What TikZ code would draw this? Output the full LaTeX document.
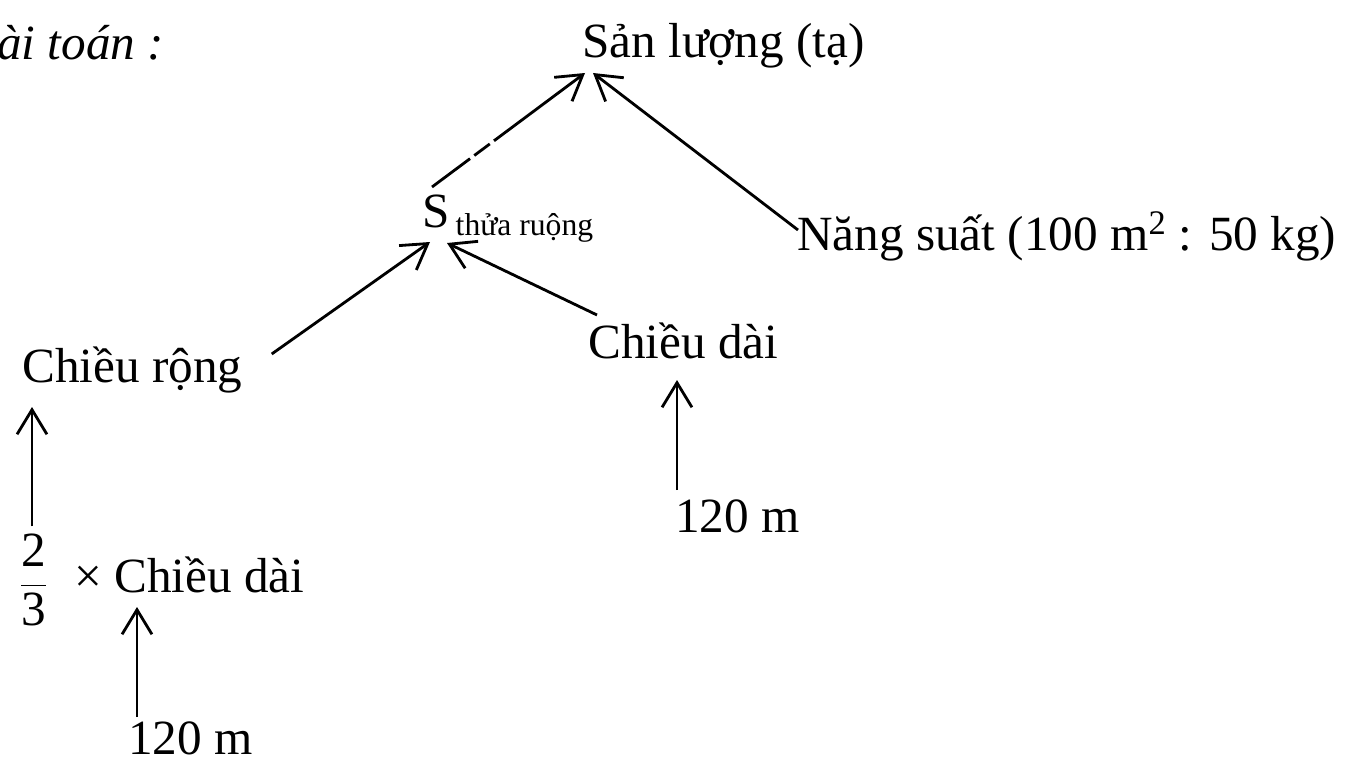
\documentclass[tikz,border=0pt]{standalone}
\usepackage[no-math]{fontspec}
\setmainfont{Liberation Serif}
\usetikzlibrary{arrows.meta, calc}

\begin{document}
\begin{tikzpicture}[lbl/.style={inner sep=0pt, anchor=base west, font=\fontsize{28}{34}\selectfont}, link/.style={line width=1.6pt, -{Straight Barb[length=14pt, width=17pt]}}]
			\useasboundingbox (0,0) rectangle (27.16,-15.3);
			\node[lbl, font=\fontsize{28}{34}\selectfont\itshape] (title) at (-0.06,-1.2) {ài toán :};
			\node[lbl] (sanluong) at (11.64,-1.16) {Sản lượng (tạ)};
			\node[lbl] (dientich) at (8.44,-4.54) {S\hspace{0.12cm}\raisebox{-0.16cm}{\fontsize{18}{20}\selectfont thửa ruộng}};
			\node[lbl] (nangsuat) at (15.94,-5.0) {Năng suất (100 m\textsuperscript{2} : 50 kg)};
			\node[lbl] (rong) at (0.44,-7.64) {Chiều rộng};
			\node[lbl] (dai) at (11.76,-7.16) {Chiều dài};
			\node[lbl] (daiso) at (13.5,-10.64) {120 m};
			\node[inner sep=0pt, font=\fontsize{28}{34}\selectfont] (frac) at (0.67,-11.6) {$\displaystyle\frac{\mbox{2}}{\mbox{3}}$};
			\node[lbl] (rongdai) at (1.48,-11.84) {× Chiều dài};
			\node[lbl] (rongso) at (2.56,-15.08) {120 m};
			% arrows up the tree
			\draw[link, dash pattern=on 27pt off 3pt on 11pt off 3pt on 200pt off 3pt] ($(dientich.base west)+(0.2,0.8)$) -- ($(sanluong.base west)+(0.06,-0.3)$);
			\draw[link] ($(nangsuat.base west)+(0.02,0.4)$) -- ($(sanluong.base west)+(0.22,-0.3)$);
			\draw[link] ($(rong.base east)+(0.58,0.56)$) -- ($(dientich.base west)+(0.16,-0.3)$);
			\draw[link] ($(dai.base west)+(0.18,0.86)$) -- ($(dientich.base west)+(0.5,-0.32)$);
			\draw[link] ($(daiso.base west)+(0.04,0.84)$) -- ($(dai.base west)+(1.78,-0.44)$);
			\draw[link] ($(frac.north)+(-0.03,0.14)$) -- ($(rong.base west)+(0.2,-0.5)$);
			\draw[link] ($(rongso.base west)+(0.18,0.74)$) -- ($(rongdai.base west)+(1.26,-0.3)$);
			\end{tikzpicture}
\end{document}
